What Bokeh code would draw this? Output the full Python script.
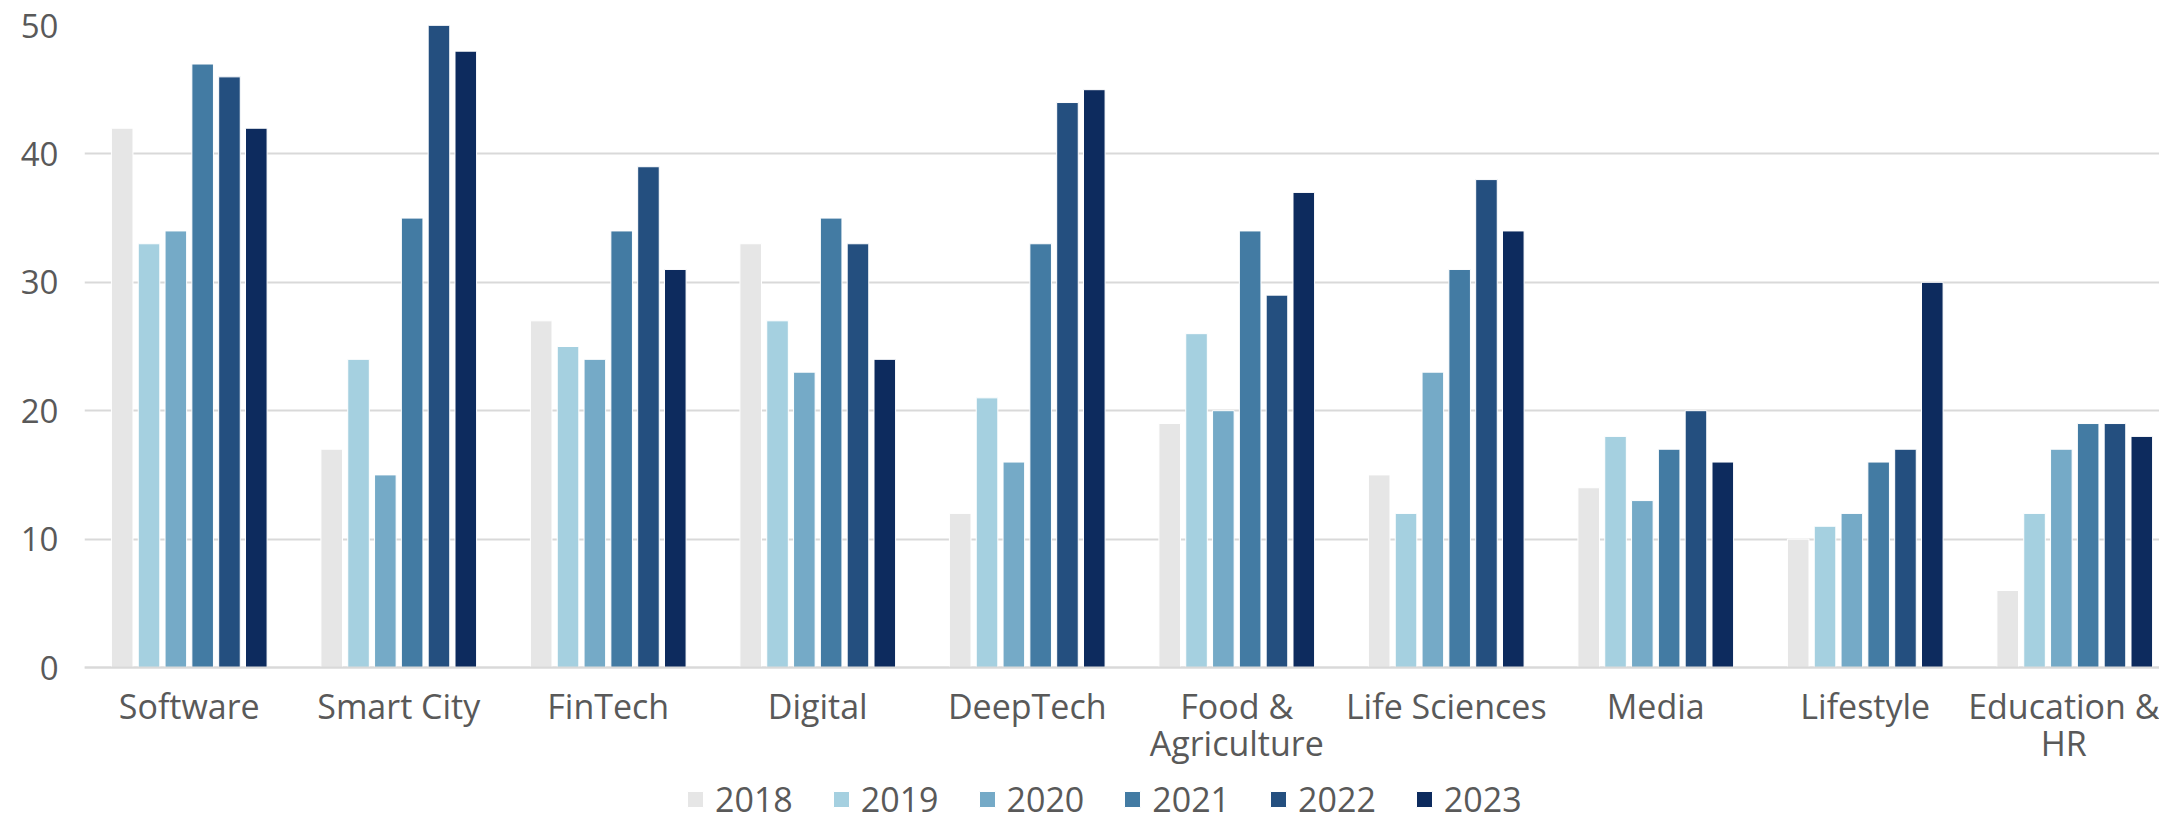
from bokeh.plotting import figure
from bokeh.models import ColumnDataSource, Range1d, FixedTicker, Legend, LegendItem
from bokeh.embed import file_html
from bokeh.resources import INLINE

categories = ["Software", "Smart City", "FinTech", "Digital", "DeepTech",
              "Food &\nAgriculture", "Life Sciences", "Media", "Lifestyle", "Education &\nHR"]
years = ["2018", "2019", "2020", "2021", "2022", "2023"]
v2018 = [42, 17, 27, 33, 12, 19, 15, 14, 10, 6]
v2019 = [33, 24, 25, 27, 21, 26, 12, 18, 11, 12]
v2020 = [34, 15, 24, 23, 16, 20, 23, 13, 12, 17]
v2021 = [47, 35, 34, 35, 33, 34, 31, 17, 16, 19]
v2022 = [46, 50, 39, 33, 44, 29, 38, 20, 17, 19]
v2023 = [42, 48, 31, 24, 45, 37, 34, 16, 30, 18]
series = [v2018, v2019, v2020, v2021, v2022, v2023]
colors = ["#E6E6E6", "#A5D0E0", "#75AAC7", "#437BA3", "#244F7F", "#0D2B5E"]
y_ticks = [0, 10, 20, 30, 40, 50]

FONT = "Open Sans"
TXT = "#595959"
GRID = "#D9D9D9"

W, H = 2159, 822
LEFT = 84
TOP = 25
ZERO_Y = 667
CAT_PX = 209.5
x_end = (W - LEFT) / CAT_PX
px_per_unit = (ZERO_Y - TOP) / 50.0
y_start = -(H - ZERO_Y) / px_per_unit

p = figure(width=W, height=H, output_backend="svg", toolbar_location=None,
           x_range=Range1d(0, x_end), y_range=Range1d(y_start, 50),
           min_border_left=LEFT, min_border_right=0, min_border_top=TOP,
           min_border_bottom=0)
p.outline_line_color = None
p.background_fill_color = "white"
p.border_fill_color = "white"

pitch = 0.128
bw = 0.103
renderers = []
for k, (yr, vals, col) in enumerate(zip(years, series, colors)):
    xs = [i + 0.5 + (k - 2.5) * pitch for i in range(len(categories))]
    src = ColumnDataSource(dict(x=xs, top=vals))
    r = p.vbar(x="x", top="top", width=bw, bottom=0, source=src,
               fill_color=col, line_color="white", line_width=1)
    renderers.append((yr, r))

# y axis
p.yaxis.ticker = FixedTicker(ticks=y_ticks)
p.yaxis.axis_line_color = None
p.yaxis.major_tick_line_color = None
p.yaxis.minor_tick_line_color = None
p.yaxis.major_label_standoff = 20
p.yaxis.major_label_text_font = FONT
p.yaxis.major_label_text_font_size = "33px"
p.yaxis.major_label_text_color = TXT

# x axis, pinned at y = 0
p.xaxis.fixed_location = 0
p.xaxis.ticker = FixedTicker(ticks=[i + 0.5 for i in range(len(categories))])
p.xaxis.major_label_overrides = {i + 0.5: c for i, c in enumerate(categories)}
p.xaxis.axis_line_color = GRID
p.xaxis.axis_line_width = 2
p.xaxis.major_tick_line_color = None
p.xaxis.minor_tick_line_color = None
p.xaxis.major_label_standoff = 9
p.xaxis.major_label_text_font = FONT
p.xaxis.major_label_text_font_size = "34px"
p.xaxis.major_label_text_color = TXT
p.xaxis.major_label_text_line_height = 0.82

p.xgrid.grid_line_color = None
p.ygrid.grid_line_color = GRID
p.ygrid.grid_line_width = 2
p.ygrid.ticker = FixedTicker(ticks=y_ticks)

legend = Legend(items=[LegendItem(label=yr, renderers=[r]) for yr, r in renderers],
                orientation="horizontal", location=(601, 0),
                border_line_color=None, background_fill_alpha=0,
                padding=0, margin=0, spacing=38, label_standoff=10,
                glyph_width=20, glyph_height=20,
                label_text_font=FONT, label_text_font_size="34px",
                label_text_color=TXT, label_text_line_height=0.75)
p.add_layout(legend, "center")

open("out.html", "w").write(file_html(p, INLINE))
